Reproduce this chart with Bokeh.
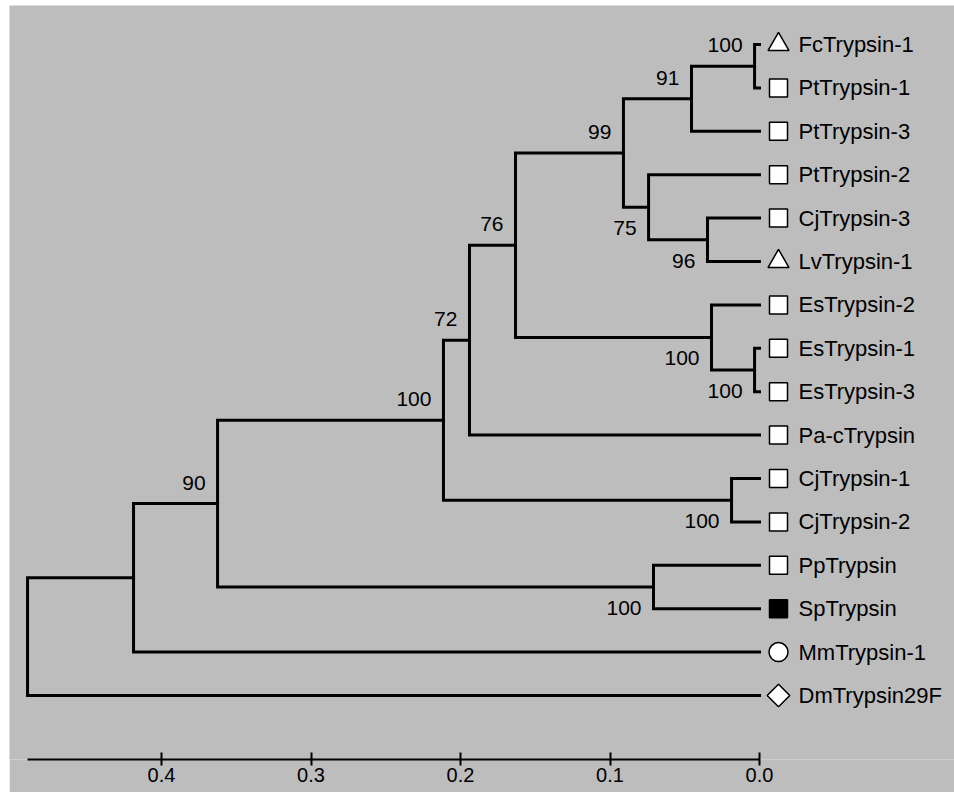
from bokeh.plotting import figure
from bokeh.models import Range1d, LinearAxis, FixedTicker, NumeralTickFormatter, ColumnDataSource, Spacer
from bokeh.layouts import row, column
from bokeh.core.properties import value
from bokeh.embed import file_html
from bokeh.resources import INLINE
import math

# ---------------- data ----------------
leaf_names = ["FcTrypsin-1", "PtTrypsin-1", "PtTrypsin-3", "PtTrypsin-2", "CjTrypsin-3",
              "LvTrypsin-1", "EsTrypsin-2", "EsTrypsin-1", "EsTrypsin-3", "Pa-cTrypsin",
              "CjTrypsin-1", "CjTrypsin-2", "PpTrypsin", "SpTrypsin", "MmTrypsin-1",
              "DmTrypsin29F"]
leaf_shapes = ["triangle", "square", "square", "square", "square", "triangle", "square",
               "square", "square", "square", "square", "square", "square", "square",
               "circle", "diamond"]
leaf_fills = ["white"] * 13 + ["black", "white", "white"]

# internal nodes (children listed before parents)
node_names   = ["I", "G", "J", "H", "F", "L", "K", "E", "D", "M", "C", "N", "B", "A", "root"]
node_left    = ["FcTrypsin-1", "I", "CjTrypsin-3", "PtTrypsin-2", "G", "EsTrypsin-1",
                "EsTrypsin-2", "F", "E", "CjTrypsin-1", "D", "PpTrypsin", "C", "B", "A"]
node_right   = ["PtTrypsin-1", "PtTrypsin-3", "LvTrypsin-1", "J", "H", "EsTrypsin-3",
                "L", "K", "Pa-cTrypsin", "CjTrypsin-2", "M", "SpTrypsin", "N",
                "MmTrypsin-1", "DmTrypsin29F"]
node_height  = [0.0033, 0.0455, 0.0348, 0.0742, 0.0910, 0.0033, 0.0321, 0.1632, 0.1940,
                0.0187, 0.2114, 0.0709, 0.3625, 0.4187, 0.4896]
node_support = [100, 91, 96, 75, 99, 100, 100, 76, 72, 100, 100, 100, 90, None, None]

tick_values = [0.0, 0.1, 0.2, 0.3, 0.4]

# ---------------- layout constants ----------------
LEFT_PAD, TOP_PAD = 9, 5
W, H = 954 - LEFT_PAD, 792 - TOP_PAD
PX_PER_UNIT = 1495.0           # pixels per unit of distance
ZERO_PX = 759.0 - LEFT_PAD     # frame pixel of distance 0
ROW_PX = 43.4                  # pixels between leaves
FIRST_ROW_PX = 44.0 - TOP_PAD  # frame pixel of first leaf
FRAME_H = 759.0 - TOP_PAD      # frame height (axis line position)
BOTTOM = H - int(FRAME_H)
BG = "#bdbdbd"
FONT = "Liberation Sans"

x_start = ZERO_PX / PX_PER_UNIT
x_end = x_start - W / PX_PER_UNIT
y_top = -FIRST_ROW_PX / ROW_PX
y_bottom = (FRAME_H - FIRST_ROW_PX) / ROW_PX

# ---------------- tree geometry ----------------
pos = {name: (0.0, float(i)) for i, name in enumerate(leaf_names)}
paths_x, paths_y = [], []
parent_of = {}
for nm, l, r, h in zip(node_names, node_left, node_right, node_height):
    lx, ly = pos[l]
    rx, ry = pos[r]
    pos[nm] = (h, (ly + ry) / 2.0)
    paths_x.append([lx, h, h, rx])
    paths_y.append([ly, ly, ry, ry])
    parent_of[l] = (nm, "upper")
    parent_of[r] = (nm, "lower")

sx, sy, stxt, soff = [], [], [], []
for nm, s in zip(node_names, node_support):
    if s is None:
        continue
    x, y = pos[nm]
    sx.append(x)
    sy.append(y)
    stxt.append(str(s))
    soff.append(-21 if parent_of[nm][1] == "upper" else 21)

p = figure(width=W, height=H, output_backend="svg", toolbar_location=None,
           x_range=Range1d(x_start, x_end), y_range=Range1d(y_bottom, y_top),
           x_axis_location=None, y_axis_location=None,
           min_border=0, min_border_left=0, min_border_right=0, min_border_top=0,
           min_border_bottom=BOTTOM)
p.background_fill_color = BG
p.border_fill_color = BG
p.outline_line_color = None
p.grid.visible = False

p.multi_line(xs=paths_x, ys=paths_y, line_color="black", line_width=3,
             line_join="miter", line_cap="square")

marker_gap = 19.0 / PX_PER_UNIT
m_shapes = ["square" if s == "diamond" else s for s in leaf_shapes]
m_angles = [math.pi / 4 if s == "diamond" else 0.0 for s in leaf_shapes]
m_sizes = [16 if s == "diamond" else (21 if s == "triangle" else (19 if s == "circle" else 18))
           for s in leaf_shapes]
msrc = ColumnDataSource(dict(x=[-marker_gap] * len(leaf_names),
                             y=list(range(len(leaf_names))),
                             marker=m_shapes, angle=m_angles, size=m_sizes, fill=leaf_fills))
p.scatter(x="x", y="y", marker="marker", angle="angle", size="size", fill_color="fill",
          line_color="black", line_width=1.5, source=msrc)

p.text(x=[0.0] * len(leaf_names), y=list(range(len(leaf_names))), text=leaf_names,
       x_offset=39, text_baseline="middle", text_align="left",
       text_font=value(FONT), text_font_size="22px", text_color="black")

p.text(x=sx, y=sy, text=stxt, x_offset=-12, y_offset=soff, text_baseline="middle",
       text_align="right", text_font=value(FONT), text_font_size="21px", text_color="black")

ax = LinearAxis(ticker=FixedTicker(ticks=tick_values),
                formatter=NumeralTickFormatter(format="0.0"),
                bounds=(0.0, node_height[-1]))
ax.axis_line_width = 2
ax.axis_line_color = "black"
ax.major_tick_line_width = 2
ax.major_tick_line_color = "black"
ax.major_tick_in = 7
ax.major_tick_out = 6
ax.minor_tick_line_color = None
ax.major_label_standoff = 2
ax.major_label_text_font = FONT
ax.major_label_text_font_size = "20px"
ax.major_label_text_color = "black"
p.add_layout(ax, "below")

layout = row(Spacer(width=LEFT_PAD, height=H), column(Spacer(width=W, height=TOP_PAD), p))
open("out.html", "w").write(file_html(layout, INLINE))
